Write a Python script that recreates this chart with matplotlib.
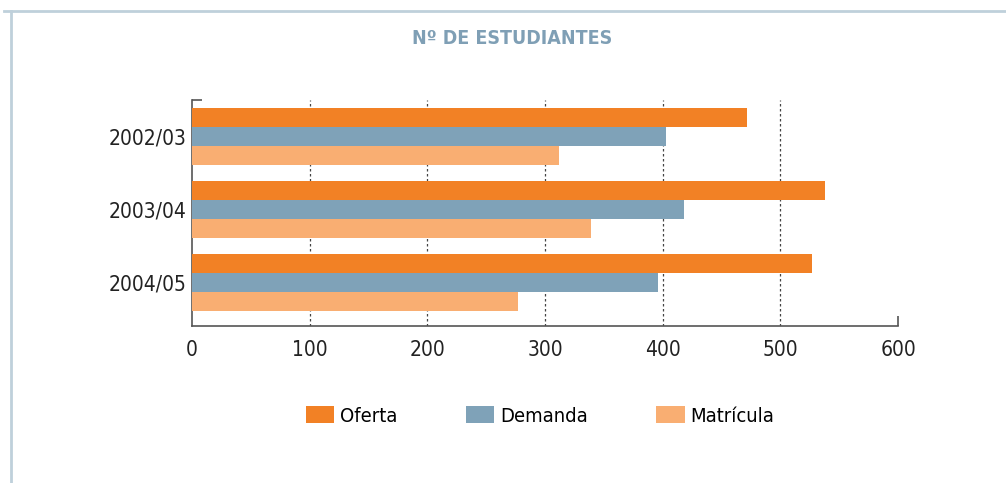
import matplotlib.pyplot as plt
import numpy as np
from matplotlib.lines import Line2D
from matplotlib.patches import Patch

plt.rcParams['font.family'] = ['DejaVu Sans']
plt.rcParams['font.stretch'] = 'condensed'

# datos
cursos = ['2002/03', '2003/04', '2004/05']
oferta = [472, 538, 527]
demanda = [403, 418, 396]
matricula = [312, 339, 277]
series = ['Oferta', 'Demanda', 'Matrícula']
colores = ['#F28125', '#7FA2B8', '#F9AE72']

fig = plt.figure(figsize=(10.06, 4.83), dpi=100)
ax = fig.add_axes([0.1909, 0.325, 0.7018, 0.468])

y = np.arange(len(cursos))
h = 0.26
for i, (vals, col) in enumerate(zip([oferta, demanda, matricula], colores)):
    ax.barh(y + (i - 1) * h, vals, height=h, color=col, zorder=3)

ax.set_xlim(0, 600)
ax.set_ylim(2.596, -0.5)
ax.set_xticks([0, 100, 200, 300, 400, 500, 600])
ax.set_yticks(y)
ax.set_yticklabels(cursos)
ax.tick_params(length=0, labelsize=15, colors='#222222', pad=4)
ax.tick_params(axis='x', pad=10)

# pequeñas marcas en los extremos
ax.set_xticks([599.9], minor=True)
ax.set_yticks([-0.5], minor=True)
ax.tick_params(which='minor', direction='in', length=7, color='#555555', width=1.2)

for x in [100, 200, 300, 400, 500]:
    ax.axvline(x, color='#444444', linestyle=(0, (2, 2)), linewidth=0.9, zorder=1)

for s in ['top', 'right']:
    ax.spines[s].set_visible(False)
for s in ['left', 'bottom']:
    ax.spines[s].set_color('#555555')
    ax.spines[s].set_linewidth(1.2)

fig.text(0.509, 0.92, 'Nº DE ESTUDIANTES', ha='center', va='center',
         fontsize=14, fontweight='bold', color='#7F9FB5')

# marco
fig.add_artist(Line2D([0.004, 1.0], [0.977, 0.977], color='#BFD0DB', linewidth=2))
fig.add_artist(Line2D([0.0105, 0.0105], [0.977, 0.0], color='#BFD0DB', linewidth=2))

handles = [Patch(facecolor=c, edgecolor='none') for c in colores]
fig.legend(handles, series, loc='center', bbox_to_anchor=(0.537, 0.139), ncol=3,
           frameon=False, fontsize=14.5, handlelength=1.4, handleheight=0.95,
           handletextpad=0.3, columnspacing=3.4)

fig.savefig('out.png', dpi=100)
